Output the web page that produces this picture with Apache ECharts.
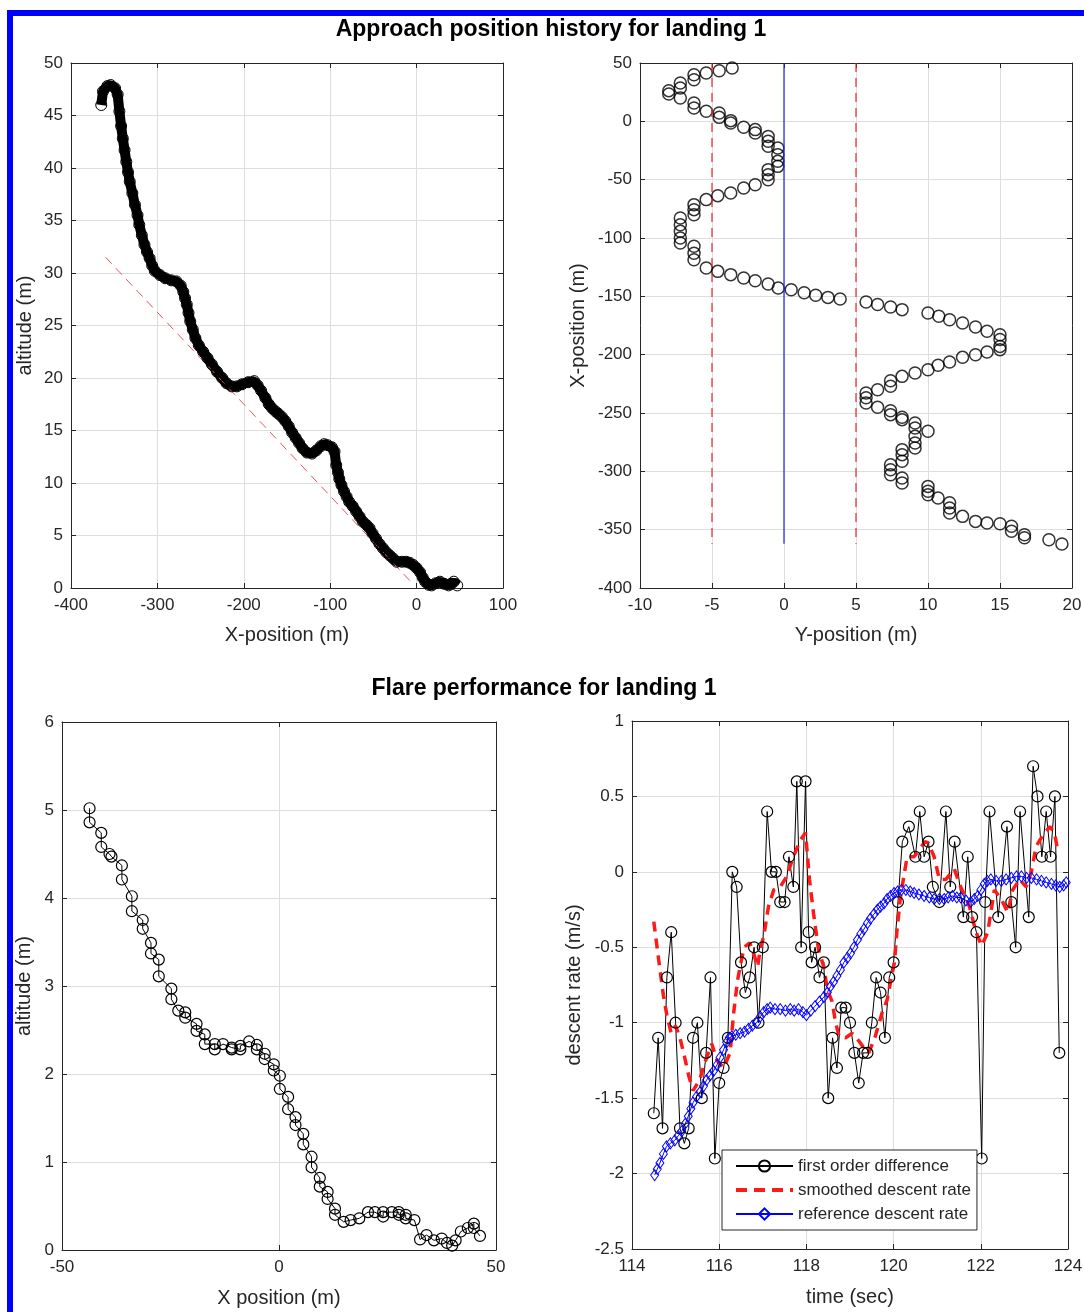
<!DOCTYPE html>
<html>
<head>
<meta charset="utf-8">
<script src="https://cdn.jsdelivr.net/npm/echarts@6/dist/echarts.min.js"></script>
<style>
  html, body { margin: 0; padding: 0; background: #fff; }
  #chart { width: 1084px; height: 1312px; }
</style>
</head>
<body>
<div id="chart"></div>
<script>
const FONT = '"Liberation Sans", Arial, Helvetica, sans-serif'
const AXIS_COLOR = '#262626'
const GRID_COLOR = '#dedede'

// approach, side view: [X-position, altitude]
const approachPath = [
  [-365, 46.0], [-363, 47.3], [-358, 47.8], [-354, 47.9], [-349, 47.6], [-346, 47.0], [-344, 45.4],
  [-342, 44.0], [-340, 42.8], [-338, 41.7], [-336, 40.6], [-334, 39.6], [-332, 38.7], [-329, 37.6],
  [-326, 36.5], [-323, 35.5], [-321, 34.6], [-318, 33.6], [-315, 32.7], [-312, 32.0], [-309, 31.4],
  [-306, 30.7], [-303, 30.2], [-297, 29.8], [-291, 29.5], [-284, 29.3], [-278, 29.2], [-273, 28.8],
  [-270, 28.2], [-268, 27.6], [-266, 27.0], [-264, 26.2], [-262, 25.4], [-259, 24.6], [-256, 23.8],
  [-252, 23.1], [-247, 22.5], [-242, 21.9], [-237, 21.3], [-231, 20.6], [-225, 20.0], [-220, 19.5],
  [-214, 19.2], [-208, 19.2], [-202, 19.4], [-195, 19.6], [-188, 19.7], [-184, 19.3], [-180, 18.8],
  [-175, 18.1], [-171, 17.5], [-167, 17.1], [-163, 16.8], [-160, 16.6], [-156, 16.3], [-152, 15.9],
  [-148, 15.4], [-144, 14.8], [-140, 14.3], [-136, 13.8], [-132, 13.3], [-127, 12.9], [-121, 12.8],
  [-116, 13.1], [-111, 13.5], [-107, 13.7], [-103, 13.6], [-98, 13.4], [-95, 13.0], [-93, 11.7],
  [-91, 11.0], [-89.5, 10.4], [-87, 9.8], [-84, 9.2], [-81, 8.7], [-78, 8.2], [-74, 7.8], [-70, 7.3],
  [-66, 6.8], [-62, 6.3], [-58, 6.0], [-54.5, 5.7], [-51, 5.2], [-47, 4.7], [-43, 4.2], [-39, 3.8],
  [-35, 3.4], [-31, 3.1], [-27, 2.8], [-23, 2.5], [-17, 2.5], [-12, 2.5], [-8, 2.4], [-4, 2.2],
  [0, 1.9], [4, 1.5], [7, 1.0], [10, 0.6], [14, 0.3], [17.5, 0.25], [22, 0.45], [27, 0.6], [32, 0.4],
  [37, 0.25], [40, 0.4], [43, 0.6], [47, 0.25]
]
// glide slope reference: [X-position, altitude]
const glidePath = [[-360, 31.5], [-5, 0.45]]

// approach, top view: [Y-position, X-position]
const trackPath = [
  [-3.6, 45.7], [-4.5, 43.4], [-5.4, 41.4], [-6.25, 40], [-6.25, 35.7], [-7.2, 32.9], [-7.2, 28.6],
  [-8.0, 26.3], [-8.0, 23.4], [-7.2, 20], [-6.25, 15.7], [-6.25, 11.4], [-5.4, 8.6], [-4.5, 7.1],
  [-4.5, 3.4], [-3.7, 0.6], [-3.7, -1.4], [-2.8, -5.1], [-2.0, -7.1], [-2.0, -10], [-1.1, -12.9],
  [-1.1, -17.1], [-1.1, -21.4], [-0.43, -22.9], [-0.43, -28.6], [-0.43, -34.3], [-0.43, -38.6],
  [-1.1, -41.4], [-1.1, -45.7], [-1.1, -50], [-2.0, -54.3], [-2.8, -57.1], [-3.7, -61.4], [-4.6, -63.7],
  [-5.4, -67.1], [-6.25, -71.4], [-6.25, -75.7], [-6.25, -80], [-7.2, -82.9], [-7.2, -88.6],
  [-7.2, -94.3], [-7.2, -100], [-7.2, -104.3], [-6.25, -107], [-6.25, -113], [-6.25, -118.6],
  [-5.4, -125.7], [-4.6, -128.6], [-3.7, -131.4], [-2.8, -134.3], [-2.0, -136.6], [-1.1, -139.4],
  [-0.4, -142.9], [0.5, -144.3], [1.4, -147], [2.2, -149], [3.05, -150.9], [3.9, -152.3], [5.7, -154.9],
  [6.5, -157], [7.4, -159.1], [8.2, -161.4], [10.0, -164.3], [10.75, -167.1], [11.5, -170], [12.4, -172.9],
  [13.3, -176.3], [14.1, -180], [15.0, -182.9], [15.0, -187], [15.0, -192.9], [15.0, -195.7], [14.1, -197.7],
  [13.3, -200], [12.4, -202.3], [11.5, -206.3], [10.7, -209.1], [10.0, -212.9], [9.1, -215.7],
  [8.2, -218.6], [7.4, -222.3], [7.4, -227], [6.5, -230], [5.7, -232.9], [5.7, -237], [5.7, -241.4],
  [6.5, -245], [7.4, -248], [7.4, -251.4], [8.2, -253.7], [8.2, -255.7], [9.1, -258.6], [9.1, -262.9],
  [10.0, -265.7], [9.1, -270], [9.1, -275.7], [9.1, -280], [8.2, -281.4], [8.2, -285.7], [8.2, -291.4],
  [7.4, -294.3], [7.4, -298.6], [7.4, -302.9], [8.2, -305.7], [8.2, -310], [10.0, -312.9], [10.0, -317],
  [10.0, -320], [10.7, -322.9], [11.5, -327], [11.5, -331.4], [11.5, -335.7], [12.4, -338.6],
  [13.3, -342.9], [14.1, -344.3], [15.0, -344.9], [15.8, -347], [15.8, -351.4], [16.7, -354.3],
  [16.7, -357], [18.4, -358.6], [19.3, -362.3]
]
// runway centre line and corridor edges: [Y-position, X-position]
const centreLine = [[0, 50], [0, -362]]
const corridorLeft = [[-5, 50], [-5, -362]]
const corridorRight = [[5, 50], [5, -362]]

// flare, side view: [X position, altitude]
const flarePath = [
  [-43.65, 5.02], [-43.65, 4.86], [-40.95, 4.74], [-40.95, 4.58], [-39.05, 4.50], [-38.6, 4.47],
  [-36.2, 4.37], [-36.2, 4.21], [-33.9, 4.02], [-33.9, 3.85], [-31.4, 3.75], [-31.4, 3.65],
  [-29.5, 3.49], [-29.5, 3.37], [-27.7, 3.30], [-27.7, 3.11], [-24.8, 2.97], [-24.8, 2.85],
  [-23.2, 2.72], [-21.6, 2.70], [-21.6, 2.64], [-19.0, 2.57], [-19.0, 2.49], [-17.1, 2.45],
  [-17.1, 2.34], [-14.8, 2.34], [-14.8, 2.28], [-12.9, 2.34], [-10.9, 2.30], [-10.9, 2.28],
  [-8.9, 2.28], [-8.9, 2.32], [-6.9, 2.37], [-5.1, 2.33], [-5.1, 2.28], [-3.3, 2.23], [-3.3, 2.17],
  [-1.2, 2.11], [-1.2, 2.04], [0.2, 1.98], [0.2, 1.83], [2.1, 1.74], [2.1, 1.60], [3.8, 1.51],
  [3.8, 1.42], [5.6, 1.32], [5.6, 1.20], [7.5, 1.06], [7.5, 0.94], [9.4, 0.82], [9.4, 0.72],
  [11.2, 0.66], [11.2, 0.58], [12.9, 0.47], [12.9, 0.40], [14.9, 0.32], [16.5, 0.34], [18.5, 0.36],
  [20.5, 0.43], [22.1, 0.43], [24.0, 0.38], [24.0, 0.43], [26.0, 0.43], [27.6, 0.43], [27.6, 0.40],
  [29.2, 0.40], [29.2, 0.36], [31.2, 0.34], [32.5, 0.12], [34.0, 0.17], [35.7, 0.11], [37.5, 0.13],
  [38.7, 0.08], [39.9, 0.05], [40.7, 0.11], [41.9, 0.21], [43.5, 0.25], [44.9, 0.30], [44.9, 0.25],
  [46.3, 0.16]
]

// descent rate: [time, m/s]
const diffRate = [
  [114.5, -1.6], [114.6, -1.1], [114.7, -1.7], [114.8, -0.7], [114.9, -0.4], [115.0, -1.0],
  [115.1, -1.7], [115.2, -1.8], [115.3, -1.7], [115.4, -1.1], [115.5, -1.0], [115.6, -1.5],
  [115.7, -1.2], [115.8, -0.7], [115.9, -1.9], [116.0, -1.4], [116.1, -1.3], [116.2, -1.1],
  [116.3, 0.0], [116.4, -0.1], [116.5, -0.6], [116.6, -0.8], [116.7, -0.7], [116.8, -0.5],
  [116.9, -1.0], [117.0, -0.5], [117.1, 0.4], [117.2, 0.0], [117.3, 0.0], [117.4, -0.2],
  [117.5, -0.2], [117.6, 0.1], [117.7, -0.1], [117.78, 0.6], [117.88, -0.5], [117.98, 0.6],
  [118.05, -0.4], [118.12, -0.6], [118.2, -0.5], [118.3, -0.7], [118.4, -0.6], [118.5, -1.5],
  [118.6, -1.1], [118.7, -1.3], [118.8, -0.9], [118.9, -0.9], [119.0, -1.0], [119.1, -1.2],
  [119.2, -1.4], [119.3, -1.2], [119.4, -1.2], [119.5, -1.0], [119.6, -0.7], [119.7, -0.8],
  [119.8, -1.1], [119.9, -0.7], [120.0, -0.6], [120.1, -0.2], [120.2, 0.2], [120.35, 0.3],
  [120.5, 0.1], [120.6, 0.4], [120.7, 0.1], [120.8, 0.2], [120.9, -0.1], [121.05, -0.2],
  [121.2, 0.4], [121.3, -0.1], [121.4, 0.2], [121.6, -0.3], [121.7, 0.1], [121.8, -0.3],
  [121.9, -0.4], [122.02, -1.9], [122.1, -0.2], [122.2, 0.4], [122.4, -0.3], [122.6, 0.3],
  [122.7, -0.2], [122.8, -0.5], [122.9, 0.4], [123.1, -0.3], [123.2, 0.7], [123.3, 0.5],
  [123.4, 0.1], [123.5, 0.4], [123.6, 0.1], [123.7, 0.5], [123.8, -1.2]
]
const smoothRate = [
  [114.5, -0.33], [114.62, -0.6], [114.72, -0.82], [114.8, -0.95], [114.9, -1.07], [115.0, -1.02],
  [115.1, -1.1], [115.2, -1.22], [115.3, -1.35], [115.4, -1.45], [115.55, -1.38], [115.7, -1.24],
  [115.83, -1.14], [115.95, -1.25], [116.1, -1.3], [116.25, -1.2], [116.33, -0.94], [116.42, -0.72],
  [116.5, -0.6], [116.57, -0.5], [116.7, -0.47], [116.8, -0.55], [116.88, -0.63], [116.95, -0.5],
  [117.02, -0.43], [117.13, -0.23], [117.25, -0.12], [117.4, -0.1], [117.55, -0.03], [117.7, 0.1],
  [117.86, 0.21], [117.98, 0.26], [118.07, -0.05], [118.17, -0.29], [118.28, -0.52], [118.4, -0.63],
  [118.48, -0.78], [118.59, -0.86], [118.67, -1.0], [118.75, -1.09], [118.9, -1.1], [119.05, -1.07],
  [119.2, -1.12], [119.3, -1.16], [119.43, -1.2], [119.58, -1.09], [119.74, -0.93], [119.85, -0.85],
  [119.95, -0.7], [120.02, -0.6], [120.08, -0.38], [120.16, -0.16], [120.31, 0.1], [120.47, 0.1],
  [120.62, 0.16], [120.72, 0.2], [120.8, 0.19], [120.93, 0.1], [121.05, -0.05], [121.2, -0.05],
  [121.39, 0.02], [121.54, -0.1], [121.74, -0.23], [121.89, -0.4], [122.02, -0.49], [122.16, -0.4],
  [122.31, -0.12], [122.47, -0.18], [122.62, -0.27], [122.73, -0.12], [122.89, -0.05], [123.04, -0.1],
  [123.16, 0.0], [123.27, 0.17], [123.42, 0.24], [123.58, 0.3], [123.69, 0.26], [123.77, 0.13]
]
const refRate = [
  [114.52, -2.01], [114.58, -1.97], [114.64, -1.93], [114.72, -1.87], [114.79, -1.82], [114.88, -1.80],
  [114.98, -1.78], [115.06, -1.75], [115.14, -1.72], [115.22, -1.67], [115.29, -1.62], [115.35, -1.57],
  [115.4, -1.53], [115.48, -1.49], [115.56, -1.46], [115.64, -1.42], [115.71, -1.38], [115.79, -1.35],
  [115.87, -1.32], [115.95, -1.28], [116.02, -1.23], [116.1, -1.18], [116.17, -1.13], [116.23, -1.10],
  [116.29, -1.09], [116.38, -1.08], [116.48, -1.07], [116.58, -1.06], [116.67, -1.04], [116.76, -1.02],
  [116.86, -1.0], [116.94, -0.96], [117.02, -0.93], [117.1, -0.91], [117.17, -0.9], [117.28, -0.91],
  [117.4, -0.91], [117.52, -0.92], [117.63, -0.91], [117.72, -0.92], [117.82, -0.91], [117.92, -0.93],
  [118.0, -0.95], [118.1, -0.92], [118.2, -0.89], [118.3, -0.86], [118.4, -0.83], [118.48, -0.8],
  [118.55, -0.76], [118.62, -0.73], [118.7, -0.69], [118.78, -0.65], [118.86, -0.6], [118.94, -0.57],
  [119.01, -0.54], [119.09, -0.5], [119.17, -0.45], [119.25, -0.41], [119.32, -0.38], [119.4, -0.34],
  [119.47, -0.31], [119.55, -0.28], [119.63, -0.25], [119.7, -0.23], [119.78, -0.21], [119.85, -0.18],
  [119.93, -0.16], [120.01, -0.14], [120.09, -0.13], [120.18, -0.12], [120.28, -0.12], [120.38, -0.13],
  [120.47, -0.14], [120.58, -0.15], [120.7, -0.16], [120.82, -0.17], [120.93, -0.18], [121.05, -0.18],
  [121.16, -0.18], [121.25, -0.17], [121.35, -0.16], [121.45, -0.17], [121.54, -0.17], [121.66, -0.19],
  [121.77, -0.2], [121.85, -0.18], [121.93, -0.16], [122.0, -0.12], [122.08, -0.08], [122.15, -0.06],
  [122.23, -0.05], [122.35, -0.06], [122.47, -0.06], [122.58, -0.05], [122.7, -0.04], [122.82, -0.03],
  [122.93, -0.03], [123.05, -0.04], [123.16, -0.04], [123.28, -0.05], [123.39, -0.06], [123.5, -0.07],
  [123.62, -0.08], [123.72, -0.09], [123.81, -0.1], [123.9, -0.09], [123.96, -0.07]
]

const grids = [
  { left: 71, top: 63, width: 432, height: 525, outerBoundsMode: 'none' },
  { left: 640, top: 63, width: 432, height: 525, outerBoundsMode: 'none' },
  { left: 62, top: 722, width: 434, height: 528, outerBoundsMode: 'none' },
  { left: 632, top: 721, width: 436, height: 528, outerBoundsMode: 'none' }
]

// main axis with labels and grid, plus a bare mirror on the opposite side (matlab box ticks)
const axisPair = (dim, gridIndex, min, max, interval, name, nameGap) => {
  const line = { show: true, onZero: false, lineStyle: { color: AXIS_COLOR, width: 1 } }
  const tick = { show: true, inside: true, length: 5, lineStyle: { color: AXIS_COLOR, width: 1 } }
  return [
    {
      type: 'value', gridIndex, min, max, interval,
      position: dim === 'x' ? 'bottom' : 'left',
      name, nameLocation: 'middle', nameGap, nameMoveOverlap: false,
      nameTextStyle: { fontFamily: FONT, fontSize: 20, color: AXIS_COLOR },
      axisLine: line,
      axisTick: tick,
      axisLabel: { fontFamily: FONT, fontSize: 17, color: AXIS_COLOR, margin: dim === 'x' ? 9 : 8 },
      splitLine: { show: true, lineStyle: { color: GRID_COLOR, width: 1 } }
    },
    {
      type: 'value', gridIndex, min, max, interval,
      position: dim === 'x' ? 'top' : 'right',
      axisLine: line,
      axisTick: tick,
      axisLabel: { show: false },
      splitLine: { show: false }
    }
  ]
}

const xAxes = [
  ...axisPair('x', 0, -400, 100, 100, 'X-position (m)', 37),
  ...axisPair('x', 1, -10, 20, 5, 'Y-position (m)', 37),
  ...axisPair('x', 2, -50, 50, 50, 'X position (m)', 38),
  ...axisPair('x', 3, 114, 124, 2, 'time (sec)', 38)
]
const yAxes = [
  ...axisPair('y', 0, 0, 50, 5, 'altitude (m)', 36),
  ...axisPair('y', 1, -400, 50, 50, 'X-position (m)', 52),
  ...axisPair('y', 2, 0, 6, 1, 'altitude (m)', 28),
  ...axisPair('y', 3, -2.5, 1, 0.5, 'descent rate (m/s)', 48)
]

const ring = (color, width) => ({ color: 'rgba(0,0,0,0)', borderColor: color, borderWidth: width })

const series = [
  {
    name: 'approach', type: 'line', xAxisIndex: 0, yAxisIndex: 0, data: approachPath,
    symbol: 'circle', symbolSize: 11, lineStyle: { color: '#000', width: 10 }, itemStyle: ring('#000', 1)
  },
  {
    name: 'glide', type: 'line', xAxisIndex: 0, yAxisIndex: 0, data: glidePath,
    symbol: 'none', lineStyle: { color: '#e0585c', width: 1, type: [9, 6] }
  },
  {
    name: 'track', type: 'scatter', xAxisIndex: 2, yAxisIndex: 2, data: trackPath,
    symbol: 'circle', symbolSize: 12, itemStyle: ring('#000', 1.5)
  },
  {
    name: 'corridorL', type: 'line', xAxisIndex: 2, yAxisIndex: 2, data: corridorLeft,
    symbol: 'none', lineStyle: { color: '#e8262b', width: 1.2, type: [9, 6] }
  },
  {
    name: 'corridorR', type: 'line', xAxisIndex: 2, yAxisIndex: 2, data: corridorRight,
    symbol: 'none', lineStyle: { color: '#e8262b', width: 1.2, type: [9, 6] }
  },
  {
    name: 'centre', type: 'line', xAxisIndex: 2, yAxisIndex: 2, data: centreLine,
    symbol: 'none', lineStyle: { color: '#2020e0', width: 1.2 }
  },
  {
    name: 'flare', type: 'line', xAxisIndex: 4, yAxisIndex: 4, data: flarePath,
    symbol: 'circle', symbolSize: 11, lineStyle: { color: '#000', width: 1 }, itemStyle: ring('#000', 1.2)
  },
  {
    name: 'first order difference', type: 'line', xAxisIndex: 6, yAxisIndex: 6, data: diffRate,
    symbol: 'circle', symbolSize: 11, lineStyle: { color: '#000', width: 1 }, itemStyle: ring('#000', 1.2)
  },
  {
    name: 'smoothed descent rate', type: 'line', xAxisIndex: 6, yAxisIndex: 6, data: smoothRate,
    symbol: 'none', itemStyle: { color: '#ff1a1a' }, lineStyle: { color: '#ff1a1a', width: 3.5, type: [10, 7] }
  },
  {
    name: 'reference descent rate', type: 'line', xAxisIndex: 6, yAxisIndex: 6, data: refRate,
    symbol: 'diamond', symbolSize: [8, 11], lineStyle: { color: '#0000ff', width: 1 }, itemStyle: ring('#0000ff', 1)
  }
]
series.forEach((s) => { s.silent = true })

const chart = echarts.init(document.getElementById('chart'), null, { renderer: 'canvas' })
chart.setOption({
  backgroundColor: '#fff',
  animation: false,
  grid: grids,
  xAxis: xAxes,
  yAxis: yAxes,
  series,
  legend: {
    data: [
      'first order difference',
      {
        name: 'smoothed descent rate',
        itemStyle: { opacity: 0 },
        lineStyle: { color: '#ff1a1a', width: 4, type: [11, 7] }
      },
      'reference descent rate'
    ],
    left: 722, top: 1150, orient: 'vertical',
    itemWidth: 57, itemHeight: 14, itemGap: 6,
    padding: [7, 6, 7, 12],
    borderColor: AXIS_COLOR, borderWidth: 1, backgroundColor: '#fff',
    selectedMode: false,
    textStyle: { fontFamily: FONT, fontSize: 17, color: AXIS_COLOR, lineHeight: 18 }
  },
  graphic: [
    {
      type: 'rect', z: 100, silent: true,
      shape: { x: 10, y: 13, width: 1300, height: 1500 },
      style: { fill: 'none', stroke: '#0000ff', lineWidth: 6 }
    },
    {
      type: 'text', z: 100, silent: true, x: 551, y: 30,
      style: { text: 'Approach position history for landing 1', font: 'bold 23px ' + FONT, fill: '#000', textAlign: 'center', textVerticalAlign: 'middle' }
    },
    {
      type: 'text', z: 100, silent: true, x: 544, y: 689,
      style: { text: 'Flare performance for landing 1', font: 'bold 23px ' + FONT, fill: '#000', textAlign: 'center', textVerticalAlign: 'middle' }
    }
  ]
})
</script>
</body>
</html>
